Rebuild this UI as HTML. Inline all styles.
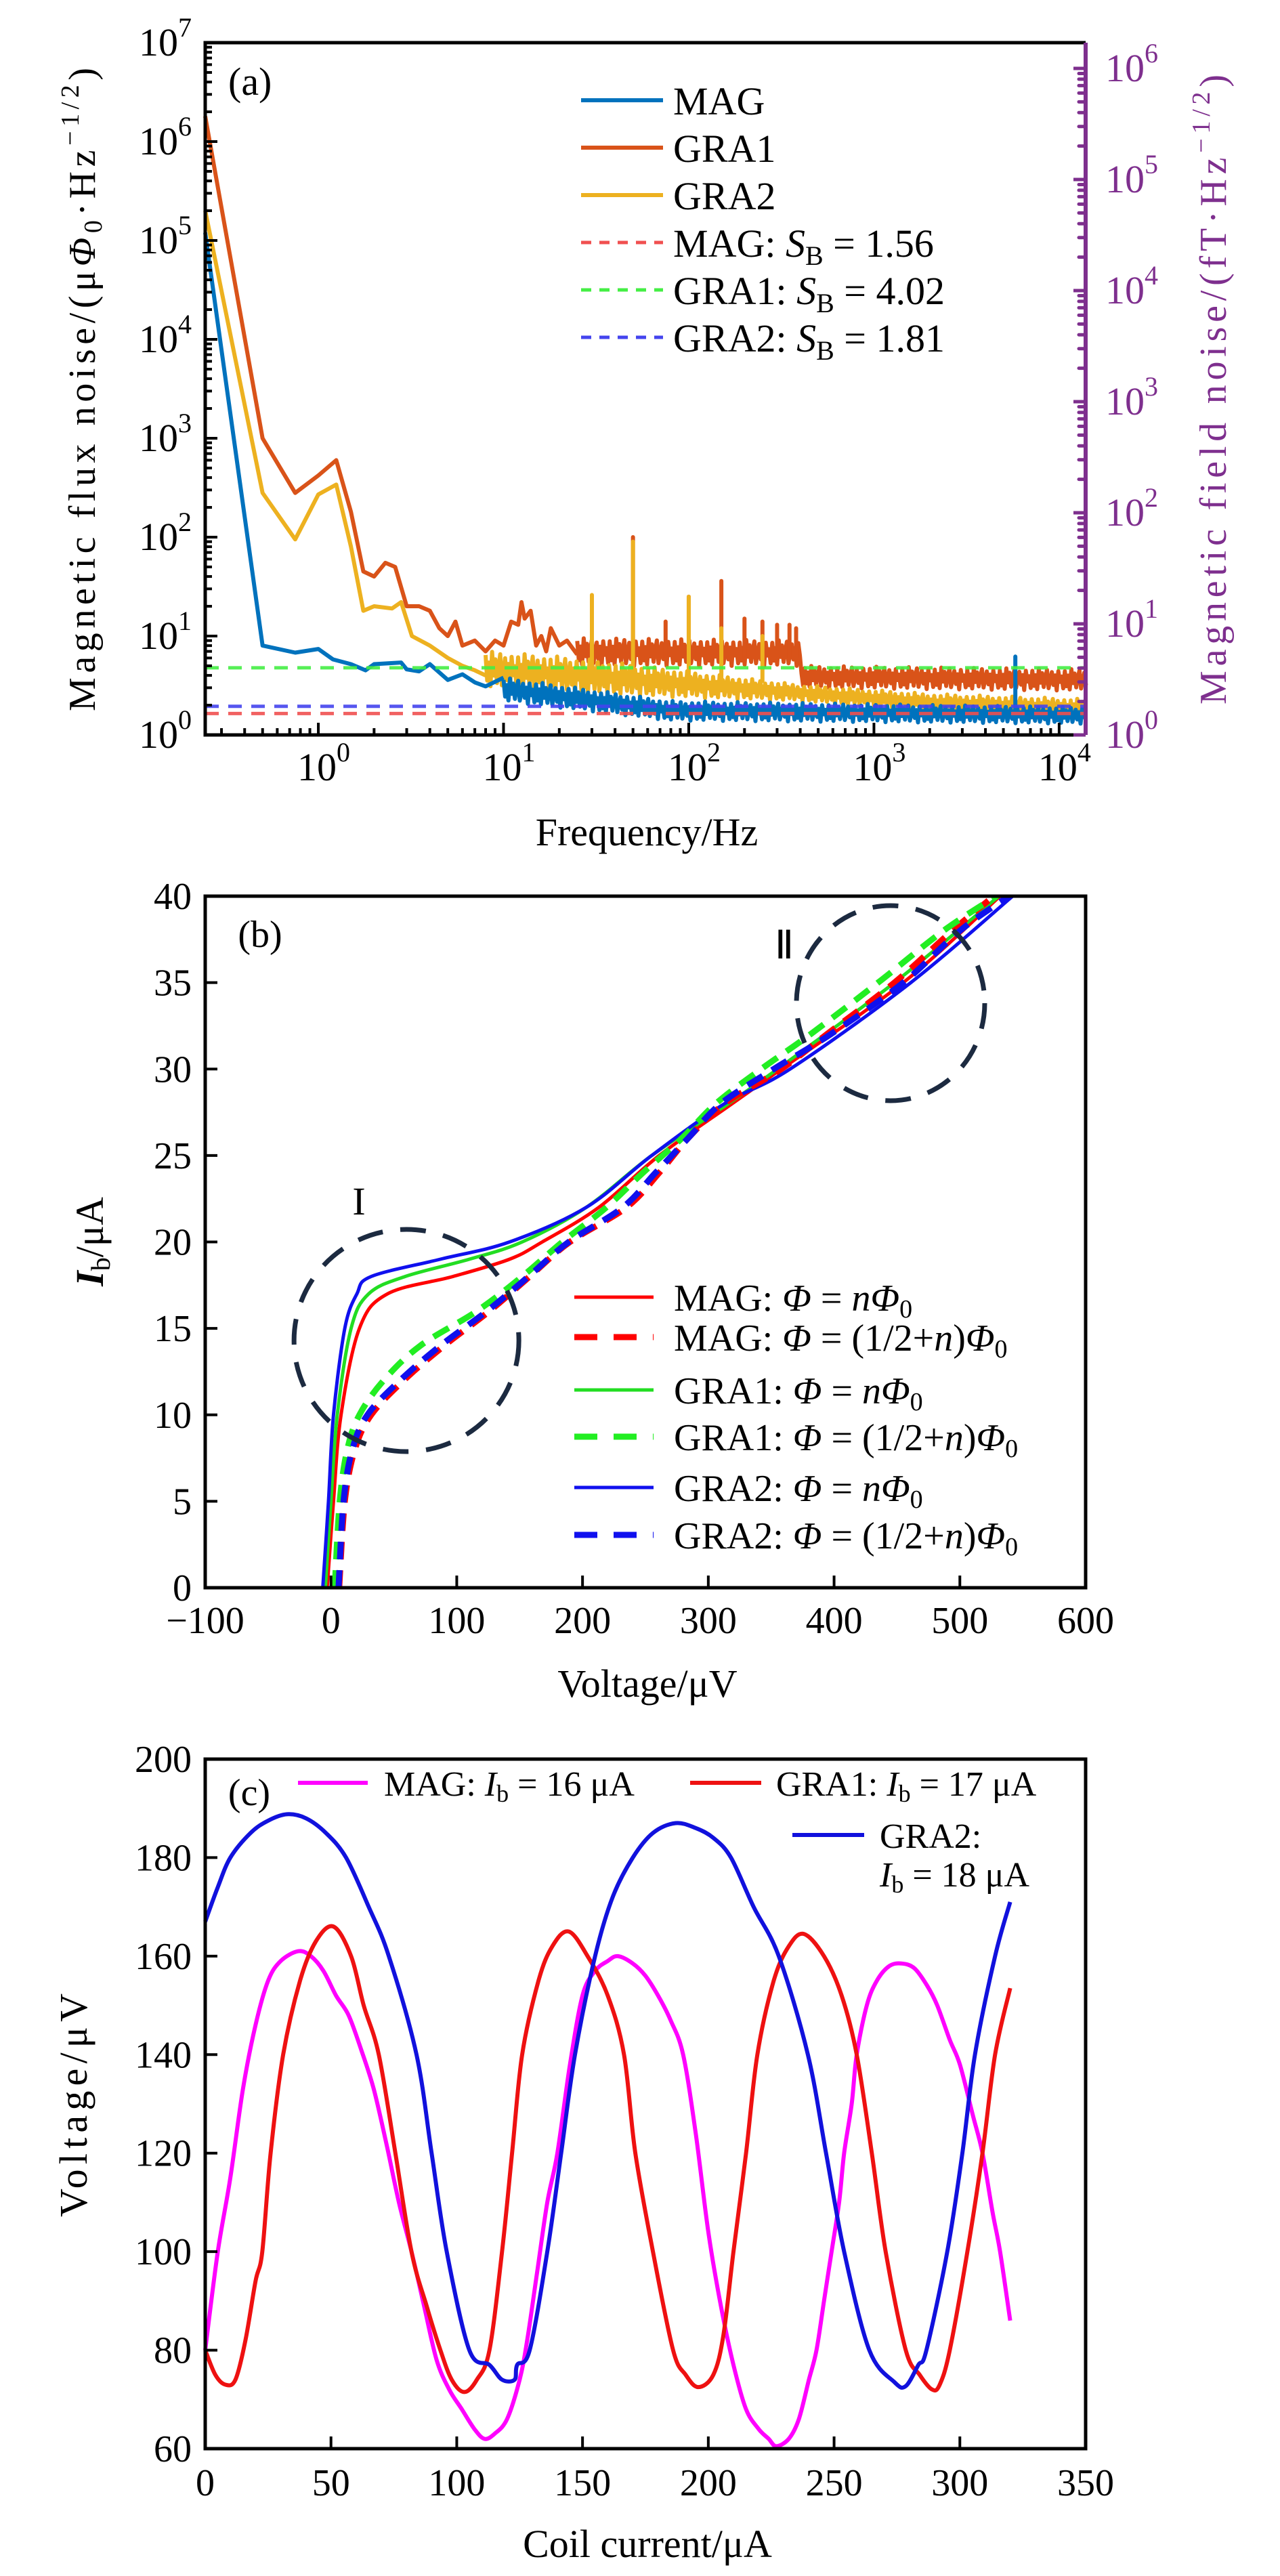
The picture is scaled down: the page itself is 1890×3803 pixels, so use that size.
<!DOCTYPE html>
<html><head><meta charset="utf-8"><style>
html,body{margin:0;padding:0;background:#fff;}
svg{display:block;font-family:"Liberation Serif",serif;}
</style></head><body>
<svg id="fig" width="1890" height="3803" viewBox="0 0 1890 3803" xmlns="http://www.w3.org/2000/svg">
<rect width="1890" height="3803" fill="#fff"/>
<g id="pa"></g>
<g id="pb"></g>
<g id="pc"></g>
</svg>
<script>
// ---------- Panel (a) data ----------
const magF=[0.245,0.5,0.75,1,1.2,1.5,1.8,2,2.8,3,3.5,4,5,6,7,8,10];
const magV=[1.2e5,8,6.8,7.4,5.8,5.2,4.5,5.2,5.4,4.6,4.4,5.2,3.6,4.1,3.4,3.1,3.8];
const gra1F=[0.245,0.5,0.75,1,1.25,1.5,1.75,2,2.3,2.6,3,3.5,4,4.5,5,5.5,6,7,8,9,10,11,12,12.5,13,14,15,16,17,18,20,22,25];
const gra1V=[1.8e6,1000,280,420,600,180,45,40,55,50,20,20,18,12,10,14,8,9,7,9,8,14,13,22,15,18,8,10,7,12,8,9,6.5];
const gra2F=[0.245,0.5,0.75,1,1.25,1.5,1.75,2,2.5,2.8,3.2,4,5,6,7,8];
const gra2V=[2e5,280,95,270,340,80,18,20,19,22,10,8,6,5,4.5,4];
// noise bands: [edge freqs], lower and upper envelopes at those edges
const gra1BandF=[25,400,400,14000];
const gra1BandLo=[5,5,3,2.8];
const gra1BandHi=[9.5,9,5,4.6];
const gra2BandF=[8,25,400,2000,14000];
const gra2BandLo=[3,2.6,2.2,1.7,1.5];
const gra2BandHi=[7,6,3.2,2.6,2.3];
const magBandF=[10,80,14000];
const magBandLo=[2.2,1.4,1.3];
const magBandHi=[3.8,2.2,1.9];
const gra1SpikeF=[50,75,100,150,200,250,300,350,380];
const gra1SpikeV=[100,14,25,36,15,14,13,13,12];
const gra2SpikeF=[30,50,100,150,250];
const gra2SpikeV=[26,90,25,12,10];
const magSpikeF=[5800];
const magSpikeV=[6.2];
const sbVals=[1.56,4.02,1.81];
const sbNames=["MAG","GRA1","GRA2"];
const sbColors=["#f05050","#44ee44","#4444ee"];
const jitter=[0.9,0.2,0.7,0.05,1,0.35,0.8,0.15,0.6,0.95,0.1,0.5,0.85,0.25,0.7,0,0.9,0.4,0.65,0.1];

// ---------- Panel (b) data (x: voltage μV, y: Ib μA) ----------
const bY=[0,5,10,15,17,18,19,20,22,25,28,30,35,40];
const magSolidX=[-3,2,8,22.6,45,97,142,168,213,261,319,358,455,532];
const gra1SolidX=[-4.5,0,5,16,30,59,110,152,203,255,316,355,448,531];
const gra2SolidX=[-6.5,-2,2,11,20.6,32,87,142,203,255,313,365,461,542];
const bYd=[0,5,8,10,12,14,16,18,20,22,24,26,28,30,32,35,38,40];
const magDashX=[6.5,11,19,32,58,90,126,158,190,235,261,284,313,358,394,448,494,527];
const gra1DashX=[3,7,13,22.6,42,71,116,152,184,219,248,279,306,342,381,435,487,529];
const gra2DashX=[6,10,17,29,55,87,124,157,189,232,258,284,310,352,397,455,500,539];

// ---------- Panel (c) data ----------
const cMagX=[0,5,10,15,20,25,30,37,42,47,52,57,62,67,72,77,82,87,92,97,102,107,111,115,120,125,128,132,136,140,145,150,155,160,164,170,175,180,185,190,195,200,205,210,215,220,224,227,232,236,240,243,246,249,252,254,257,259,263,267,272,277,282,287,291,296,300,305,309,313,316,320];
const cMagY=[80,100,115,133,146,155,159,161,160,157,152,148,141,133,122,110,100,89,78,72,68,64,62,63,66,74,82,96,110,120,138,152,157,159,160,158.5,156,152,147,140,124,104,89,77,68,64,62,60.5,62,66,74,80,90,100,110,120,130,140,150,155,158,158.5,157.5,154,150,143,138,128,120,108,100,86];
const cG1X=[0,4,8,12,16,20,22.7,26,31,37.7,44,51,58,63,69,75.6,82,88,93.5,98,103,108,113,118,122,126,132.5,138,144.5,152,160,166.5,171,178,186,191,196,202,206,210,215,219.5,226,232,238,246,253,259,265,270.5,278.5,284,289,292,296,303,309,314,320];
const cG1Y=[80,75,73,74,82,94,100,120,140,155,163,166,160,150,140,120,100,89,80,74,71.5,74,80,100,120,140,155,162,165,160,152,140,120,100,80,75,72.5,75,83,100,120,140,155,162,164.5,160,152,140,120,100,80,75,72,73,80,100,120,140,153.5];
const cG2X=[0,5,10,18,25,32.5,40,48,56,65,73,84,90,96,105,113,118,123,124,129,136,141.5,147,155,162,170,178,187,195,202,209,218,228,239.6,246.8,254,264,274,278.5,283.5,286.7,295,301,306,314,320];
const cG2Y=[167,174,180,185,187.5,188.8,188,185,180,170,160,140,120,100,80,77,74,74,77,80,100,120,140,160,172,180,185,187,186,184,180,170,160,140,120,100,80,73.5,72.7,77,80,100,120,140,160,171];

// ---------- helpers ----------
const NS="http://www.w3.org/2000/svg";
function el(parent,tag,attrs){const e=document.createElementNS(NS,tag);for(const k in attrs)e.setAttribute(k,attrs[k]);parent.appendChild(e);return e;}
function smooth(pts){let d="M"+pts[0][0].toFixed(1)+","+pts[0][1].toFixed(1);
 for(let i=0;i<pts.length-1;i++){const p0=pts[i-1]||pts[i],p1=pts[i],p2=pts[i+1],p3=pts[i+2]||p2;
  const c1=[p1[0]+(p2[0]-p0[0])/6,p1[1]+(p2[1]-p0[1])/6],c2=[p2[0]-(p3[0]-p1[0])/6,p2[1]-(p3[1]-p1[1])/6];
  d+="C"+c1[0].toFixed(1)+","+c1[1].toFixed(1)+" "+c2[0].toFixed(1)+","+c2[1].toFixed(1)+" "+p2[0].toFixed(1)+","+p2[1].toFixed(1);}
 return d;}
function poly(pts){return "M"+pts.map(p=>p[0].toFixed(1)+","+p[1].toFixed(1)).join("L");}
function txt(parent,x,y,str,size,anchor,fill){const t=el(parent,"text",{x:x,y:y,"font-size":size,"text-anchor":anchor||"start",fill:fill||"#000"});t.innerHTML=str;return t;}

// ================= PANEL A =================
const A=document.getElementById("pa");
const aL=303,aR=1603,aT=63,aB=1085;
const lfmin=Math.log10(0.245),lfmax=4.143;
const xA=f=>aL+(Math.log10(f)-lfmin)/(lfmax-lfmin)*(aR-aL);
const yA=v=>aB-146*Math.log10(v);
const yR=v=>aB-164*Math.log10(v);
function bandPath(F,Lo,Hi){const pts=[];let k=0;const x0=xA(F[0]),x1=xA(F[F.length-1]);
 for(let x=x0;x<=x1;x+=2.4){const lf=lfmin+(x-aL)/(aR-aL)*(lfmax-lfmin);const f=Math.pow(10,lf);
  let i=0;while(i<F.length-2&&f>F[i+1])i++;
  let t=(Math.log10(f)-Math.log10(F[i]))/((Math.log10(F[i+1])-Math.log10(F[i]))||1);t=Math.max(0,Math.min(1,t));
  const lo=Math.log10(Lo[i])+(Math.log10(Lo[i+1])-Math.log10(Lo[i]))*t;
  const hi=Math.log10(Hi[i])+(Math.log10(Hi[i+1])-Math.log10(Hi[i]))*t;
  const j=jitter[k%jitter.length];k++;
  pts.push([x,aB-146*(lo+(hi-lo)*j)]);}
 return poly(pts);}
function spikes(g,F,V,lo,col,name){F.forEach((f,i)=>{const p=el(g,"path",{d:"M"+xA(f)+","+yA(lo)+"L"+xA(f)+","+yA(V[i]),stroke:col,"stroke-width":6,"stroke-linecap":"round"});
 
 });}
const series=[
 {n:"gra1",F:gra1F,V:gra1V,bF:gra1BandF,bL:gra1BandLo,bH:gra1BandHi,sF:gra1SpikeF,sV:gra1SpikeV,c:"#D95319",base:6},
 {n:"gra2",F:gra2F,V:gra2V,bF:gra2BandF,bL:gra2BandLo,bH:gra2BandHi,sF:gra2SpikeF,sV:gra2SpikeV,c:"#EDB120",base:3.5},
 {n:"mag",F:magF,V:magV,bF:magBandF,bL:magBandLo,bH:magBandHi,sF:magSpikeF,sV:magSpikeV,c:"#0072BD",base:1.8}];
series.forEach(s=>{const g=el(A,"g",{});
 
 
 const p=el(g,"path",{d:poly(s.F.map((f,i)=>[xA(f),yA(s.V[i])])),fill:"none",stroke:s.c,"stroke-width":6,"stroke-linejoin":"round"});
 
 
 const b=el(g,"path",{d:bandPath(s.bF,s.bL,s.bH),fill:"none",stroke:s.c,"stroke-width":6,"stroke-linejoin":"round"});
 
 
 spikes(g,s.sF,s.sV,s.base,s.c,s.n);});
// S_B dashed lines (right axis units)
sbVals.forEach((v,i)=>{const l=el(A,"line",{x1:aL,x2:aR,y1:yR(v),y2:yR(v),stroke:sbColors[i],"stroke-width":5,"stroke-dasharray":"20 14",opacity:0.9});
 
 });
// frame
el(A,"path",{d:`M${aR},${aT}L${aL},${aT}L${aL},${aB}L${aR},${aB}`,fill:"none",stroke:"#000","stroke-width":5});
el(A,"line",{x1:aR,y1:aT,x2:aR,y2:aB,stroke:"#7E2F8E","stroke-width":6});
// left ticks
for(let d=0;d<=7;d++){const y=yA(Math.pow(10,d));el(A,"line",{x1:aL,x2:aL+18,y1:y,y2:y,stroke:"#000","stroke-width":4});
 const t=txt(A,283,y+19,"10<tspan dy='-28' font-size='40'>"+d+"</tspan>",58,"end");
 if(d<7)for(let k=2;k<=9;k++){const yy=yA(k*Math.pow(10,d));el(A,"line",{x1:aL,x2:aL+10,y1:yy,y2:yy,stroke:"#000","stroke-width":4});}}
// right ticks
for(let d=0;d<=6;d++){const y=yR(Math.pow(10,d));el(A,"line",{x1:aR-18,x2:aR,y1:y,y2:y,stroke:"#7E2F8E","stroke-width":5});
 const t=txt(A,1632,y+19,"10<tspan dy='-28' font-size='40'>"+d+"</tspan>",58,"start","#7E2F8E");
 for(let k=2;k<=9;k++){const yy=yR(k*Math.pow(10,d));if(yy>aT)el(A,"line",{x1:aR-10,x2:aR,y1:yy,y2:yy,stroke:"#7E2F8E","stroke-width":5,"stroke-linecap":"round"});}}
// bottom ticks
for(let d=-1;d<=4;d++){const x=xA(Math.pow(10,d));
 if(d>=0){el(A,"line",{x1:x,x2:x,y1:aB,y2:aB-18,stroke:"#000","stroke-width":4});
  const t=txt(A,x+8,1152,"10<tspan dy='-28' font-size='40'>"+d+"</tspan>",58,"middle");}
 for(let k=2;k<=9;k++){const f=k*Math.pow(10,d);const xx=xA(f);if(xx>aL&&xx<aR)el(A,"line",{x1:xx,x2:xx,y1:aB,y2:aB-10,stroke:"#000","stroke-width":4});}}
// legend
const legA=[["MAG","#0072BD",0],["GRA1","#D95319",0],["GRA2","#EDB120",0],
 ["MAG: <tspan font-style='italic'>S</tspan><tspan font-size='40' dy='12'>B</tspan><tspan dy='-12'> = 1.56</tspan>","#f05050",1],
 ["GRA1: <tspan font-style='italic'>S</tspan><tspan font-size='40' dy='12'>B</tspan><tspan dy='-12'> = 4.02</tspan>","#44ee44",1],
 ["GRA2: <tspan font-style='italic'>S</tspan><tspan font-size='40' dy='12'>B</tspan><tspan dy='-12'> = 1.81</tspan>","#4444ee",1]];
legA.forEach((e,i)=>{const y=148+i*70;const g=el(A,"g",{});
 
 
 el(g,"line",{x1:858,x2:979,y1:y,y2:y,stroke:e[1],"stroke-width":e[2]?5:6,"stroke-dasharray":e[2]?"15 12":"none"});
 txt(g,994,y+21,e[0],58);});
let t;
t=txt(A,337,140,"(a)",58);
t=txt(A,955,1248,"Frequency/Hz",58,"middle");
t=el(A,"text",{x:0,y:0,"font-size":56,"text-anchor":"middle",transform:"translate(140,575) rotate(-90)",textLength:950,lengthAdjust:"spacing"});
t.innerHTML="Magnetic flux noise/(μ<tspan font-style='italic'>Φ</tspan><tspan font-size='38' dy='10'>0</tspan><tspan dy='-10'>·Hz</tspan><tspan font-size='38' dy='-24'>−1/2</tspan><tspan dy='24'>)</tspan>";

t=el(A,"text",{x:0,y:0,"font-size":56,"text-anchor":"middle",fill:"#7E2F8E",transform:"translate(1810,575) rotate(-90)",textLength:930,lengthAdjust:"spacing"});
t.innerHTML="Magnetic field noise/(fT·Hz<tspan font-size='38' dy='-24'>−1/2</tspan><tspan dy='24'>)</tspan>";


// ================= PANEL B =================
const B=document.getElementById("pb");
const bL=303,bR=1603,bT=1323,bB=2344;
const xB=v=>bL+(v+100)/700*(bR-bL);
const yB=i=>bB-i/40*(bB-bT);
el(B,"defs",{}).innerHTML="<clipPath id='clipb'><rect x='"+bL+"' y='"+bT+"' width='"+(bR-bL)+"' height='"+(bB-bT)+"'/></clipPath>";
const cg=el(B,"g",{"clip-path":"url(#clipb)"});
const bSeries=[
 ["mag-flux-n",magSolidX,bY,"#ff0000",0],["gra1-flux-n",gra1SolidX,bY,"#22dd22",0],["gra2-flux-n",gra2SolidX,bY,"#1010ee",0],
 ["mag-flux-half",magDashX,bYd,"#ff0000",1],["gra1-flux-half",gra1DashX,bYd,"#22ee22",1],["gra2-flux-half",gra2DashX,bYd,"#1010ee",1]];
bSeries.forEach(s=>{const p=el(cg,"path",{d:smooth(s[1].map((v,i)=>[xB(v),yB(s[2][i])])),fill:"none",stroke:s[3],"stroke-width":s[4]?9:5,"stroke-dasharray":s[4]?"26 16":"none"});
 
 });
// circles
let c1=el(B,"ellipse",{cx:xB(60),cy:yB(14.3),rx:166,ry:164,fill:"none",stroke:"#1c2a40","stroke-width":7,"stroke-dasharray":"38 26"});

let c2=el(B,"ellipse",{cx:1315,cy:1481,rx:139,ry:144,fill:"none",stroke:"#1c2a40","stroke-width":7,"stroke-dasharray":"38 26"});

t=txt(B,530,1793,"I",58,"middle");
t=txt(B,1158,1415,"Ⅱ",58,"middle");
el(B,"rect",{x:bL,y:bT,width:bR-bL,height:bB-bT,fill:"none",stroke:"#000","stroke-width":5});
for(let v=-100;v<=600;v+=100){el(B,"line",{x1:xB(v),x2:xB(v),y1:bB,y2:bB-18,stroke:"#000","stroke-width":4});
 t=txt(B,xB(v),2411,v<0?"−"+(-v):""+v,56,"middle");}
for(let v=0;v<=40;v+=5){el(B,"line",{x1:bL,x2:bL+18,y1:yB(v),y2:yB(v),stroke:"#000","stroke-width":4});
 t=txt(B,283,yB(v)+19,""+v,56,"end");}
const legB=[["MAG: <tspan font-style='italic'>Φ</tspan> = <tspan font-style='italic'>nΦ</tspan><tspan font-size='38' dy='10'>0</tspan>","#ff0000",0],
 ["MAG: <tspan font-style='italic'>Φ</tspan> = (1/2+<tspan font-style='italic'>n</tspan>)<tspan font-style='italic'>Φ</tspan><tspan font-size='38' dy='10'>0</tspan>","#ff0000",1],
 ["GRA1: <tspan font-style='italic'>Φ</tspan> = <tspan font-style='italic'>nΦ</tspan><tspan font-size='38' dy='10'>0</tspan>","#22dd22",0],
 ["GRA1: <tspan font-style='italic'>Φ</tspan> = (1/2+<tspan font-style='italic'>n</tspan>)<tspan font-style='italic'>Φ</tspan><tspan font-size='38' dy='10'>0</tspan>","#22ee22",1],
 ["GRA2: <tspan font-style='italic'>Φ</tspan> = <tspan font-style='italic'>nΦ</tspan><tspan font-size='38' dy='10'>0</tspan>","#1010ee",0],
 ["GRA2: <tspan font-style='italic'>Φ</tspan> = (1/2+<tspan font-style='italic'>n</tspan>)<tspan font-style='italic'>Φ</tspan><tspan font-size='38' dy='10'>0</tspan>","#1010ee",1]];
const legBY=[1915,1974,2052,2121,2196,2266];
legB.forEach((e,i)=>{const g=el(B,"g",{});
 
 
 el(g,"line",{x1:848,x2:965,y1:legBY[i],y2:legBY[i],stroke:e[1],"stroke-width":e[2]?9:5,"stroke-dasharray":e[2]?"34 24":"none"});
 txt(g,995,legBY[i]+20,e[0],56);});
t=txt(B,384,1398,"(b)",56,"middle");
t=txt(B,956,2505,"Voltage/μV",58,"middle");
t=el(B,"text",{x:0,y:0,"font-size":58,"text-anchor":"middle",transform:"translate(152,1833) rotate(-90)"});
t.innerHTML="<tspan font-style='italic' font-weight='bold'>I</tspan><tspan font-size='40' dy='10'>b</tspan><tspan dy='-10'>/μA</tspan>";


// ================= PANEL C =================
const C=document.getElementById("pc");
const cL=303,cR=1603,cT=2597,cB=3615;
const xC=v=>cL+v/350*(cR-cL);
const yC=v=>cB-(v-60)/140*(cB-cT);
const cSeries=[["mag",cMagX,cMagY,"#ff00ff"],["gra1",cG1X,cG1Y,"#ee1111"],["gra2",cG2X,cG2Y,"#1111dd"]];
cSeries.forEach(s=>{const p=el(C,"path",{d:smooth(s[1].map((v,i)=>[xC(v),yC(s[2][i])])),fill:"none",stroke:s[3],"stroke-width":6});
 
 });
el(C,"rect",{x:cL,y:cT,width:cR-cL,height:cB-cT,fill:"none",stroke:"#000","stroke-width":5});
for(let v=0;v<=350;v+=50){el(C,"line",{x1:xC(v),x2:xC(v),y1:cB,y2:cB-18,stroke:"#000","stroke-width":4});
 t=txt(C,xC(v),3684,""+v,56,"middle");}
for(let v=60;v<=200;v+=20){el(C,"line",{x1:cL,x2:cL+18,y1:yC(v),y2:yC(v),stroke:"#000","stroke-width":4});
 t=txt(C,283,yC(v)+19,""+v,56,"end");}
const legC=[[440,543,2632,567,2651,"MAG: <tspan font-style='italic'>I</tspan><tspan font-size='36' dy='9'>b</tspan><tspan dy='-9'> = 16 μA</tspan>","#ff00ff"],
 [1019,1124,2632,1146,2651,"GRA1: <tspan font-style='italic'>I</tspan><tspan font-size='36' dy='9'>b</tspan><tspan dy='-9'> = 17 μA</tspan>","#ee1111"],
 [1170,1276,2709,1299,2728,"GRA2:","#1111dd"]];
legC.forEach(e=>{const g=el(C,"g",{});
 
 
 el(g,"line",{x1:e[0],x2:e[1],y1:e[2],y2:e[2],stroke:e[6],"stroke-width":6});
 txt(g,e[3],e[4],e[5],52);});
t=txt(C,1299,2785,"<tspan font-style='italic'>I</tspan><tspan font-size='36' dy='9'>b</tspan><tspan dy='-9'> = 18 μA</tspan>",52);

t=txt(C,368,2665,"(c)",56,"middle");
t=txt(C,956,3775,"Coil current/μA",58,"middle");
t=el(C,"text",{x:0,y:0,"font-size":58,"text-anchor":"middle",transform:"translate(128,3108) rotate(-90)",textLength:330,lengthAdjust:"spacing"});
t.textContent="Voltage/μV";

</script>
</body></html>
